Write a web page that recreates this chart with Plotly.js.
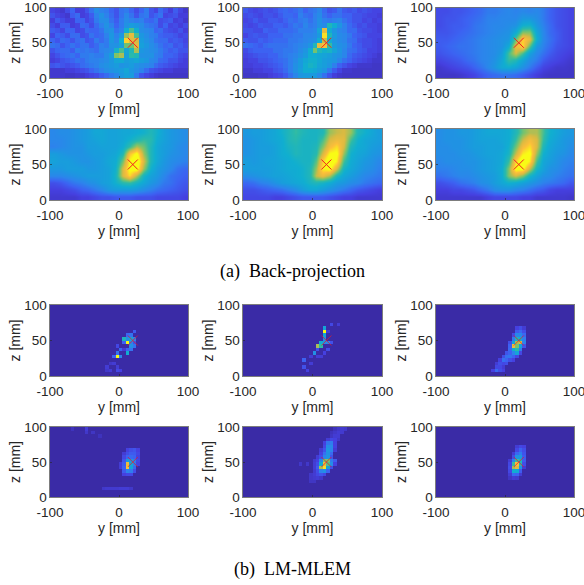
<!DOCTYPE html>
<html><head><meta charset="utf-8">
<script src="https://cdn.plot.ly/plotly-3.0.1.min.js"></script>
<style>html,body{margin:0;padding:0;background:#fff}</style></head>
<body><div id="chart" style="width:584px;height:585px"></div>
<script>
const yTickVals=[-100,0,100], yTickText=['-100','0','100'];
const zTickVals=[0,50,100], zTickText=['0','50','100'];
const sourceY=[20], sourceZ=[50];
const captionA='(a)  Back-projection', captionB='(b)  LM-MLEM';
const parula=[[0,'#3a2ba6'],[0.1,'#4540e0'],[0.2,'#3c62f2'],[0.3,'#2c84ec'],[0.4,'#1a9ade'],[0.5,'#10aed0'],[0.6,'#2cbaa8'],[0.7,'#7cc36a'],[0.8,'#d8ba42'],[0.9,'#fcbe3a'],[1,'#f9fb15']];

const bp1=[
[10,8,6,12,18,8,8,14,22,30,26,24,18,14,22,24,18,12,18,24,14,10,20,14,8,16,10,6],
[14,10,8,6,16,20,8,10,16,26,32,26,20,14,22,28,22,14,22,24,14,18,22,10,12,14,8,8],
[8,16,12,8,8,18,18,10,14,24,30,30,22,16,24,30,26,24,26,20,18,22,12,14,16,8,10,6],
[12,8,16,16,8,10,20,18,12,20,26,32,26,18,24,32,36,34,30,24,22,20,12,18,10,12,8,12],
[16,14,10,18,18,10,12,20,18,18,22,30,32,22,26,44,56,44,30,28,26,18,20,14,12,10,14,8],
[10,18,16,12,20,20,12,14,22,18,20,26,34,26,34,64,74,56,34,30,26,24,18,16,16,14,10,12],
[18,14,20,18,14,20,22,14,16,24,20,24,34,28,44,82,72,70,36,32,28,22,20,20,14,16,14,10],
[22,20,14,18,22,18,22,22,16,20,26,24,32,32,38,60,60,72,38,34,30,26,22,18,20,14,16,12],
[14,18,20,20,16,24,22,24,22,20,26,28,30,46,56,40,50,66,34,32,30,28,24,20,16,18,14,14],
[10,14,18,20,22,18,24,24,26,24,24,30,36,62,66,38,52,50,32,32,32,26,24,18,18,16,12,10],
[8,10,14,16,18,22,20,24,26,26,28,30,34,40,42,36,38,40,36,34,28,26,20,18,14,14,10,8],
[14,16,14,12,14,16,20,22,24,26,30,32,34,36,32,34,36,32,30,28,26,20,16,14,12,10,8,8],
[6,6,6,8,8,10,12,14,18,22,26,30,32,34,36,40,34,30,26,20,14,12,10,8,8,6,6,6],
[6,6,6,5,5,6,6,8,10,12,16,20,24,28,34,38,36,24,14,10,8,6,5,5,5,5,5,5]];
const bp2=[
[16,12,10,12,14,12,14,18,20,18,20,24,18,22,24,28,20,14,16,22,16,14,16,12,14,12,10,10],
[12,14,12,10,14,14,12,16,20,20,18,26,22,20,26,30,22,18,22,22,18,18,14,14,12,10,10,8],
[10,12,16,12,12,16,16,14,18,22,20,24,26,22,26,32,26,24,26,28,22,18,14,14,10,12,8,10],
[12,10,12,16,14,14,18,18,16,20,24,22,28,24,26,32,30,50,44,34,26,20,16,12,14,10,10,8],
[14,14,12,12,18,16,16,20,20,20,22,26,26,26,28,40,76,44,34,28,26,20,20,14,12,12,10,8],
[10,14,16,14,14,18,18,18,22,22,24,24,28,28,30,36,86,50,36,30,28,24,18,16,14,10,10,10],
[16,14,14,18,16,18,20,20,20,24,24,26,28,30,32,44,70,44,34,30,28,22,20,14,12,12,10,8],
[22,20,18,16,20,22,22,22,22,24,26,28,30,34,50,75,80,55,36,32,30,24,18,16,12,12,10,8],
[12,16,18,18,18,18,22,22,24,24,26,30,34,44,62,50,46,48,40,34,28,22,20,16,14,10,10,8],
[10,12,14,16,16,18,18,22,24,26,28,32,36,44,44,42,40,38,34,32,28,20,16,14,12,10,8,6],
[8,10,10,14,14,16,18,20,22,26,30,36,42,46,46,42,38,36,34,28,22,18,14,12,10,8,6,6],
[8,8,10,10,12,14,16,18,22,26,32,36,44,48,46,40,38,34,26,18,14,10,8,6,6,6,5,5],
[6,6,8,8,10,10,14,16,20,26,32,38,44,44,42,38,34,24,16,10,6,6,5,5,5,5,5,5],
[5,5,5,6,6,8,10,12,16,22,28,34,36,36,36,30,22,14,8,6,5,5,5,5,5,5,5,5]];
const bp3=[
[12,12,14,14,16,18,20,24,24,26,28,26,28,26,28,24,18,14,12,10],
[12,14,14,16,18,20,22,26,26,28,28,28,34,34,30,24,18,14,12,10],
[12,14,16,16,18,22,24,26,28,28,30,32,44,46,34,26,20,14,12,10],
[14,14,16,18,20,22,24,26,28,30,32,42,62,62,40,28,20,16,12,10],
[16,16,18,20,22,24,26,28,30,32,34,58,82,74,44,28,22,16,12,10],
[16,18,20,22,22,24,26,28,30,32,42,74,84,58,34,26,20,14,12,10],
[14,16,18,20,22,24,26,28,30,36,56,70,56,38,28,22,16,12,10,8],
[10,12,14,16,20,22,26,28,32,40,54,50,40,30,24,16,12,10,8,6],
[6,8,10,12,14,18,22,28,34,42,44,40,32,24,16,10,8,6,6,5],
[5,5,5,6,8,10,14,18,20,22,22,20,16,12,8,6,5,5,5,5]];
const bp4=[
[26,28,28,30,32,34,38,38,36,36,38,38,40,42,46,42,36,32,30,28],
[26,26,28,30,32,34,36,38,36,36,38,42,46,50,48,40,36,32,30,28],
[24,26,28,30,30,34,34,36,36,36,40,50,62,56,46,38,34,32,28,26],
[34,32,30,30,30,32,34,34,36,38,46,74,84,60,46,38,34,30,28,26],
[36,34,34,32,30,30,32,34,38,40,56,82,90,66,46,38,32,28,26,24],
[32,32,34,34,34,32,32,34,36,42,66,84,86,60,42,34,30,26,20,18],
[26,26,28,30,32,34,34,34,36,44,66,78,62,44,36,32,26,20,18,16],
[12,14,18,22,24,28,30,34,36,42,48,50,44,38,32,28,22,20,16,14],
[8,8,10,12,16,18,22,26,32,34,34,34,32,28,24,20,18,16,14,12],
[6,6,6,6,8,8,10,12,12,14,14,14,12,12,12,10,10,10,10,8]];
const bp5=[
[32,34,34,36,38,42,46,50,46,44,44,46,60,64,66,60,46,42,38,34],
[30,32,34,36,38,40,46,48,44,44,44,52,66,70,68,52,42,38,36,34],
[30,32,34,34,36,40,44,46,44,44,46,58,72,78,66,46,40,38,34,32],
[30,32,34,34,36,40,42,46,44,44,48,66,82,84,60,42,38,36,32,30],
[34,32,34,36,36,38,40,42,44,44,54,76,90,80,52,40,36,32,30,26],
[34,34,34,34,36,38,40,40,42,46,60,80,84,66,44,38,34,30,28,24],
[28,30,32,34,36,36,38,40,42,46,64,70,62,46,38,34,30,26,24,22],
[18,20,24,26,30,34,36,38,40,44,46,44,40,34,32,28,26,22,20,18],
[12,12,14,16,18,20,24,28,34,38,38,34,30,26,22,18,14,12,10,8],
[10,10,10,10,8,8,10,12,14,14,14,14,12,10,8,8,6,6,6,6]];
const bp6=[
[28,30,30,32,32,34,36,38,38,38,40,46,56,62,62,52,42,38,34,32],
[28,30,30,30,32,34,36,36,36,38,40,50,64,72,66,50,40,36,32,30],
[28,28,30,30,32,34,34,36,36,36,42,56,72,78,66,46,38,34,32,28],
[28,28,28,30,30,32,34,36,36,38,44,64,80,84,60,42,36,32,30,26],
[26,28,28,28,30,30,32,34,36,38,50,76,90,80,52,38,34,30,26,24],
[24,24,26,28,28,30,32,34,36,40,58,84,84,64,44,36,30,28,24,22],
[20,22,24,26,26,28,30,32,34,40,58,66,58,44,36,30,28,24,22,20],
[12,14,16,20,22,24,28,30,34,38,42,40,36,32,28,24,22,20,18,14],
[8,8,10,10,12,14,18,22,28,30,30,26,24,20,16,14,10,8,8,8],
[6,6,6,6,6,6,6,8,10,10,10,10,8,8,6,6,6,6,6,5]];

// [y, z, intensity] of the cells that rise above the dark background
const lm1=[[-2.5,27.5,100],[-2.5,32.5,25],[2.5,27.5,30],[-7.5,27.5,20],[2.5,37.5,22],[-2.5,42.5,12],[12.5,47.5,100],[7.5,52.5,55],[12.5,52.5,35],[7.5,47.5,20],[12.5,57.5,22],[17.5,52.5,45],[17.5,47.5,30],[22.5,52.5,30],[17.5,42.5,35],[22.5,42.5,25],[12.5,32.5,50],[17.5,37.5,25],[12.5,37.5,20],[22.5,62.5,18],[17.5,57.5,25],[22.5,47.5,15],[-17.5,12.5,8],[-12.5,7.5,8],[-7.5,17.5,8],[-2.5,7.5,12],[2.5,7.5,10],[-17.5,7.5,6],[-12.5,17.5,6],[-2.5,12.5,8],[7.5,37.5,8]];
const lm2=[[17.5,67.5,45],[17.5,62.5,100],[17.5,57.5,45],[17.5,52.5,35],[17.5,47.5,35],[12.5,47.5,50],[7.5,42.5,75],[12.5,42.5,60],[22.5,47.5,30],[27.5,47.5,15],[2.5,32.5,35],[7.5,37.5,15],[-12.5,22.5,20],[-12.5,12.5,15],[-7.5,7.5,10],[27.5,72.5,12],[37.5,72.5,8],[22.5,37.5,14],[17.5,32.5,10],[-2.5,27.5,8],[7.5,27.5,8],[-2.5,17.5,8],[12.5,27.5,8],[22.5,62.5,8]];
const lm3=[[17.5,67.5,10],[22.5,67.5,14],[27.5,67.5,8],[17.5,62.5,18],[22.5,62.5,22],[27.5,62.5,14],[12.5,57.5,12],[17.5,57.5,32],[22.5,57.5,32],[27.5,57.5,22],[12.5,52.5,28],[17.5,52.5,55],[22.5,52.5,50],[27.5,52.5,28],[7.5,47.5,14],[12.5,47.5,45],[17.5,47.5,75],[22.5,47.5,80],[27.5,47.5,30],[7.5,42.5,20],[12.5,42.5,85],[17.5,42.5,70],[22.5,42.5,45],[27.5,42.5,16],[7.5,37.5,22],[12.5,37.5,50],[17.5,37.5,60],[22.5,37.5,28],[2.5,32.5,16],[7.5,32.5,20],[12.5,32.5,30],[17.5,32.5,45],[22.5,32.5,12],[-2.5,27.5,14],[2.5,27.5,24],[7.5,27.5,26],[12.5,27.5,20],[17.5,27.5,12],[-7.5,22.5,10],[-2.5,22.5,24],[2.5,22.5,20],[7.5,22.5,14],[12.5,22.5,10],[-12.5,17.5,8],[-7.5,17.5,14],[-2.5,17.5,12],[2.5,17.5,14],[-12.5,12.5,12],[-7.5,12.5,12],[-2.5,12.5,8],[-17.5,7.5,10],[-12.5,7.5,22],[-7.5,7.5,14],[-2.5,7.5,10]];
const lm4=[[12.5,67.5,10],[17.5,67.5,14],[22.5,67.5,16],[27.5,67.5,10],[7.5,62.5,8],[12.5,62.5,14],[17.5,62.5,18],[22.5,62.5,18],[27.5,62.5,12],[7.5,57.5,12],[12.5,57.5,20],[17.5,57.5,22],[22.5,57.5,20],[27.5,57.5,10],[7.5,52.5,16],[12.5,52.5,40],[17.5,52.5,38],[22.5,52.5,28],[27.5,52.5,12],[2.5,47.5,8],[7.5,47.5,18],[12.5,47.5,85],[17.5,47.5,45],[22.5,47.5,28],[27.5,47.5,10],[2.5,42.5,8],[7.5,42.5,20],[12.5,42.5,90],[17.5,42.5,45],[22.5,42.5,22],[7.5,37.5,18],[12.5,37.5,30],[17.5,37.5,28],[22.5,37.5,14],[7.5,32.5,10],[12.5,32.5,12],[17.5,32.5,12],[-22.5,12.5,6],[-17.5,12.5,7],[-12.5,12.5,7],[-7.5,12.5,7],[-2.5,12.5,7],[2.5,12.5,8],[7.5,12.5,8],[12.5,12.5,8],[17.5,12.5,6],[-47.5,97.5,8],[-47.5,92.5,6],[-67.5,97.5,4],[-37.5,92.5,5],[-27.5,87.5,4]];
const lm5=[[32.5,97.5,4],[37.5,97.5,6],[42.5,97.5,7],[47.5,97.5,6],[27.5,92.5,4],[32.5,92.5,6],[37.5,92.5,8],[42.5,92.5,7],[27.5,87.5,5],[32.5,87.5,8],[37.5,87.5,8],[22.5,82.5,8],[27.5,82.5,12],[32.5,82.5,10],[37.5,82.5,6],[17.5,77.5,10],[22.5,77.5,26],[27.5,77.5,28],[32.5,77.5,10],[17.5,72.5,12],[22.5,72.5,34],[27.5,72.5,32],[32.5,72.5,10],[12.5,67.5,8],[17.5,67.5,16],[22.5,67.5,38],[27.5,67.5,30],[32.5,67.5,8],[12.5,62.5,10],[17.5,62.5,24],[22.5,62.5,36],[27.5,62.5,22],[7.5,57.5,8],[12.5,57.5,14],[17.5,57.5,30],[22.5,57.5,38],[27.5,57.5,16],[2.5,52.5,7],[7.5,52.5,10],[12.5,52.5,32],[17.5,52.5,70],[22.5,52.5,70],[27.5,52.5,28],[32.5,52.5,18],[-17.5,47.5,6],[-7.5,47.5,6],[2.5,47.5,8],[7.5,47.5,14],[12.5,47.5,50],[17.5,47.5,85],[22.5,47.5,65],[27.5,47.5,34],[32.5,47.5,10],[2.5,42.5,8],[7.5,42.5,18],[12.5,42.5,75],[17.5,42.5,95],[22.5,42.5,45],[27.5,42.5,14],[2.5,37.5,7],[7.5,37.5,14],[12.5,37.5,30],[17.5,37.5,36],[22.5,37.5,20],[-2.5,32.5,6],[2.5,32.5,8],[7.5,32.5,12],[12.5,32.5,16],[17.5,32.5,12],[-2.5,27.5,6],[2.5,27.5,7],[7.5,27.5,8],[12.5,27.5,6],[-2.5,22.5,5],[2.5,22.5,5]];
const lm6=[[17.5,72.5,8],[22.5,72.5,12],[27.5,72.5,10],[17.5,67.5,12],[22.5,67.5,20],[27.5,67.5,14],[12.5,62.5,8],[17.5,62.5,22],[22.5,62.5,28],[27.5,62.5,16],[12.5,57.5,14],[17.5,57.5,38],[22.5,57.5,40],[27.5,57.5,18],[7.5,52.5,8],[12.5,52.5,32],[17.5,52.5,62],[22.5,52.5,55],[27.5,52.5,18],[7.5,47.5,12],[12.5,47.5,62],[17.5,47.5,90],[22.5,47.5,58],[27.5,47.5,14],[7.5,42.5,14],[12.5,42.5,75],[17.5,42.5,82],[22.5,42.5,38],[27.5,42.5,8],[7.5,37.5,12],[12.5,37.5,50],[17.5,37.5,48],[22.5,37.5,18],[7.5,32.5,8],[12.5,32.5,22],[17.5,32.5,20],[22.5,32.5,8],[7.5,27.5,5],[12.5,27.5,8],[17.5,27.5,7]];

const W=584,H=585;
// pixel boxes: left, right, top, bottom
const colBoxes=[[50,188],[243,382],[436,574]];
const rowBoxes=[[7.5,78],[129,200],[305,376],[427,497]];
const smoothing=[false,false,'best','best','best','best',false,false,false,false,false,false];
const zTop=[88,90,88,82,82,82,100,100,100,100,100,100];

function fromCells(cells){
  const grid=[];
  for(let r=0;r<20;r++) grid.push(new Array(40).fill(0));
  cells.forEach(c=>{grid[Math.floor(c[1]/5)][Math.floor((c[0]+100)/5)]=c[2];});
  return grid;
}
const panels=[bp1,bp2,bp3,bp4,bp5,bp6].map(g=>g.slice().reverse()).concat([lm1,lm2,lm3,lm4,lm5,lm6].map(fromCells));

const captionFont={family:'"Liberation Serif",serif',size:18,color:'#000'};
const data=[],layout={width:W,height:H,margin:{l:0,r:0,t:0,b:0},paper_bgcolor:'#fff',showlegend:false,
  font:{family:'"Liberation Sans",Arial,sans-serif',size:13,color:'#262626'},
  annotations:[
   {text:captionA,x:292/W,y:1-271/H,xref:'paper',yref:'paper',showarrow:false,xanchor:'center',yanchor:'middle',font:captionFont},
   {text:captionB,x:292/W,y:1-569/H,xref:'paper',yref:'paper',showarrow:false,xanchor:'center',yanchor:'middle',font:captionFont}
  ]};
panels.forEach((g,i)=>{
  const col=i%3,row=Math.floor(i/3),n=i===0?'':String(i+1);
  const nx=g[0].length,ny=g.length,dx=200/nx,dy=100/ny;
  data.push({type:'heatmap',z:g,x0:-100+dx/2,dx:dx,y0:dy/2,dy:dy,zmin:0,zmax:zTop[i],colorscale:parula,showscale:false,zsmooth:smoothing[i],xaxis:'x'+n,yaxis:'y'+n,hoverinfo:'skip'});
  data.push({type:'scatter',mode:'markers',x:sourceY,y:sourceZ,xaxis:'x'+n,yaxis:'y'+n,marker:{symbol:'x-thin',size:10,line:{width:1,color:i>=6?'rgba(225,30,40,0.75)':'#f02020'}},hoverinfo:'skip'});
  const common={showline:true,mirror:true,linecolor:'#262626',linewidth:0.6,ticks:'inside',ticklen:2,tickwidth:0.6,tickcolor:'#262626',showgrid:false,zeroline:false,tickfont:{size:13.5,color:'#262626'}};
  layout['xaxis'+n]=Object.assign({},common,{domain:[colBoxes[col][0]/W,colBoxes[col][1]/W],range:[-100,100],tickmode:'array',tickvals:yTickVals,ticktext:yTickText,anchor:'y'+n,ticklabelstandoff:3,ticklabeloverflow:'allow',title:{text:'y [mm]',standoff:4,font:{size:14,color:'#262626'}}});
  layout['yaxis'+n]=Object.assign({},common,{domain:[1-rowBoxes[row][1]/H,1-rowBoxes[row][0]/H],range:[0,100],tickmode:'array',tickvals:zTickVals,ticktext:zTickText,anchor:'x'+n,ticklabeloverflow:'allow',title:{text:'z [mm]',standoff:0,font:{size:14,color:'#262626'}}});
});
Plotly.newPlot('chart',data,layout,{displayModeBar:false,staticPlot:true});
</script></body></html>
